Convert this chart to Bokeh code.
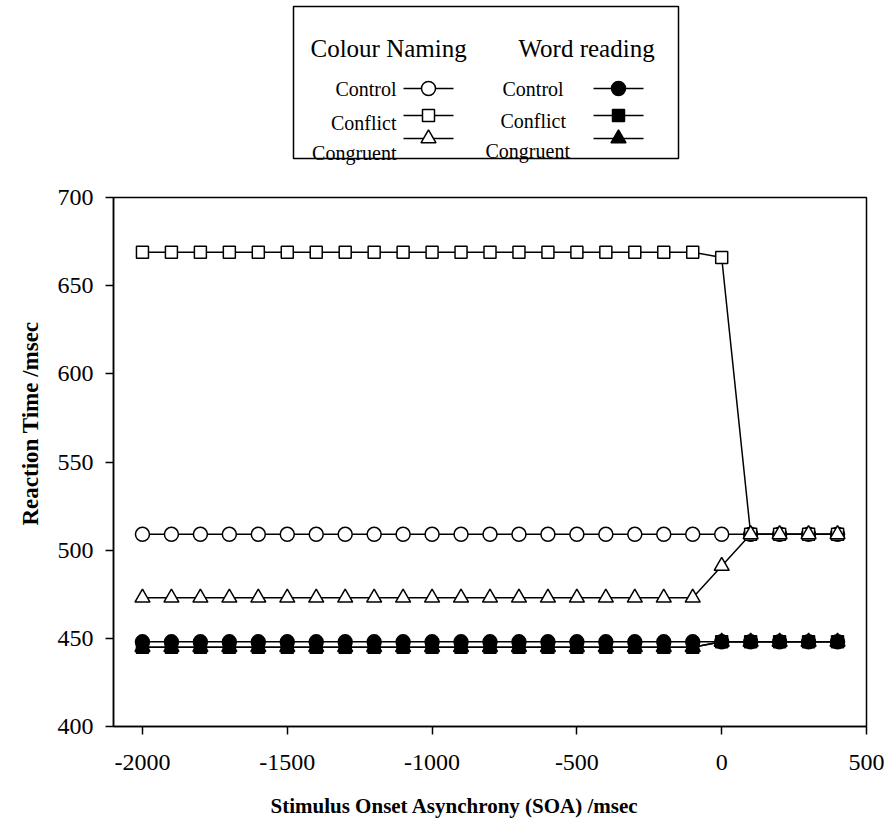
from bokeh.plotting import figure
from bokeh.layouts import column
from bokeh.models import Range1d, FixedTicker, Title
from bokeh.core.properties import value
from bokeh.embed import file_html
from bokeh.resources import INLINE

# Stimulus onset asynchrony (msec)
soa = [-2000, -1900, -1800, -1700, -1600, -1500, -1400, -1300, -1200, -1100,
       -1000, -900, -800, -700, -600, -500, -400, -300, -200, -100,
       0, 100, 200, 300, 400]

# Colour naming reaction times (msec)
cn_control = [509, 509, 509, 509, 509, 509, 509, 509, 509, 509,
              509, 509, 509, 509, 509, 509, 509, 509, 509, 509,
              509, 509, 509, 509, 509]
cn_conflict = [669, 669, 669, 669, 669, 669, 669, 669, 669, 669,
               669, 669, 669, 669, 669, 669, 669, 669, 669, 669,
               666, 509, 509, 509, 509]
cn_congruent = [473, 473, 473, 473, 473, 473, 473, 473, 473, 473,
                473, 473, 473, 473, 473, 473, 473, 473, 473, 473,
                491, 509, 509, 509, 509]

# Word reading reaction times (msec)
wr_control = [448, 448, 448, 448, 448, 448, 448, 448, 448, 448,
              448, 448, 448, 448, 448, 448, 448, 448, 448, 448,
              448, 448, 448, 448, 448]
wr_conflict = [445, 445, 445, 445, 445, 445, 445, 445, 445, 445,
               445, 445, 445, 445, 445, 445, 445, 445, 445, 445,
               448, 448, 448, 448, 448]
wr_congruent = [445, 445, 445, 445, 445, 445, 445, 445, 445, 445,
                445, 445, 445, 445, 445, 445, 445, 445, 445, 445,
                448, 448, 448, 448, 448]

x_ticks = [-2000, -1500, -1000, -500, 0, 500]
x_tick_labels = ["-2000", "-1500", "-1000", "-500", "0", "500"]
y_ticks = [400, 450, 500, 550, 600, 650, 700]

FONT = "Liberation Serif"

# ---------------------------------------------------------------- legend panel
# x and y of this panel are measured in pixels of the page
leg = figure(frame_width=753, frame_height=165,
             min_border_left=113, min_border_right=25,
             min_border_top=0, min_border_bottom=0,
             x_range=Range1d(113, 866), y_range=Range1d(165, 0),
             x_axis_type=None, y_axis_type=None,
             output_backend="svg", toolbar_location=None)
leg.grid.visible = False
leg.outline_line_color = None
leg.background_fill_color = "white"
leg.border_fill_color = "white"

leg.quad(left=293, right=678, top=6, bottom=158,
         fill_color=None, line_color="black", line_width=1.5)

leg.text(x=[310, 518], y=[48, 48], text=["Colour Naming", "Word reading"],
         text_font=value(FONT), text_font_size="25px",
         text_baseline="alphabetic", text_align="left", text_color="black")

items = ["Control", "Conflict", "Congruent"]
leg.text(x=[396, 396, 396], y=[88, 122, 152], text=items,
         text_font=value(FONT), text_font_size="20px",
         text_baseline="alphabetic", text_align="right", text_color="black")
leg.text(x=[502, 500, 485], y=[88, 120, 150], text=items,
         text_font=value(FONT), text_font_size="20px",
         text_baseline="alphabetic", text_align="left", text_color="black")

key_y = [88, 115, 138]
markers = ["circle", "square", "triangle"]
key_size = [14, 12, 15]
for cx, fill in [(428, "white"), (618, "black")]:
    leg.segment(x0=[cx - 25] * 3, x1=[cx + 25] * 3, y0=key_y, y1=key_y,
                line_color="black", line_width=1.5)
    leg.scatter(x=[cx] * 3, y=key_y, marker=markers, size=key_size,
                fill_color=fill, line_color="black", line_width=1.5)

# ---------------------------------------------------------------- main chart
p = figure(frame_width=753, frame_height=529,
           x_range=Range1d(-2100, 500), y_range=Range1d(400, 700),
           min_border_left=113, min_border_right=25,
           min_border_top=32, min_border_bottom=101,
           output_backend="svg", toolbar_location=None)
p.grid.visible = False
p.outline_line_color = "black"
p.outline_line_width = 1.5
p.background_fill_color = "white"
p.border_fill_color = "white"

for ax, ticks in [(p.xaxis, x_ticks), (p.yaxis, y_ticks)]:
    ax.ticker = FixedTicker(ticks=ticks)
    ax.minor_tick_line_color = None
    ax.major_tick_out = 8
    ax.major_tick_in = 0
    ax.axis_line_width = 1.5
    ax.axis_line_color = "black"
    ax.major_tick_line_width = 1.5
    ax.major_tick_line_color = "black"
    ax.major_label_text_font = FONT
    ax.major_label_text_font_size = "24px"
    ax.major_label_text_color = "black"
    ax.major_label_standoff = 12
p.xaxis.major_label_standoff = 20
p.xaxis.major_label_overrides = dict(zip(x_ticks, x_tick_labels))

p.add_layout(Title(text="Stimulus Onset Asynchrony (SOA) /msec",
                   align="left", offset=157, standoff=38,
                   text_font=FONT, text_font_style="bold",
                   text_font_size="21px", text_color="black"), "below")
p.add_layout(Title(text="Reaction Time /msec",
                   align="left", offset=201, standoff=24,
                   text_font=FONT, text_font_style="bold",
                   text_font_size="23px", text_color="black"), "left")

series = [
    (wr_control, "circle", 14, "black"),
    (wr_conflict, "square", 12, "black"),
    (wr_congruent, "triangle", 15, "black"),
    (cn_control, "circle", 14, "white"),
    (cn_conflict, "square", 12, "white"),
    (cn_congruent, "triangle", 15, "white"),
]
for ys, *_ in series:
    p.line(soa, ys, line_color="black", line_width=1.5)
for ys, mk, sz, fill in series:
    p.scatter(soa, ys, marker=mk, size=sz, fill_color=fill,
              line_color="black", line_width=1.5)

layout = column(leg, p, spacing=0)
open("out.html", "w").write(file_html(layout, INLINE))
